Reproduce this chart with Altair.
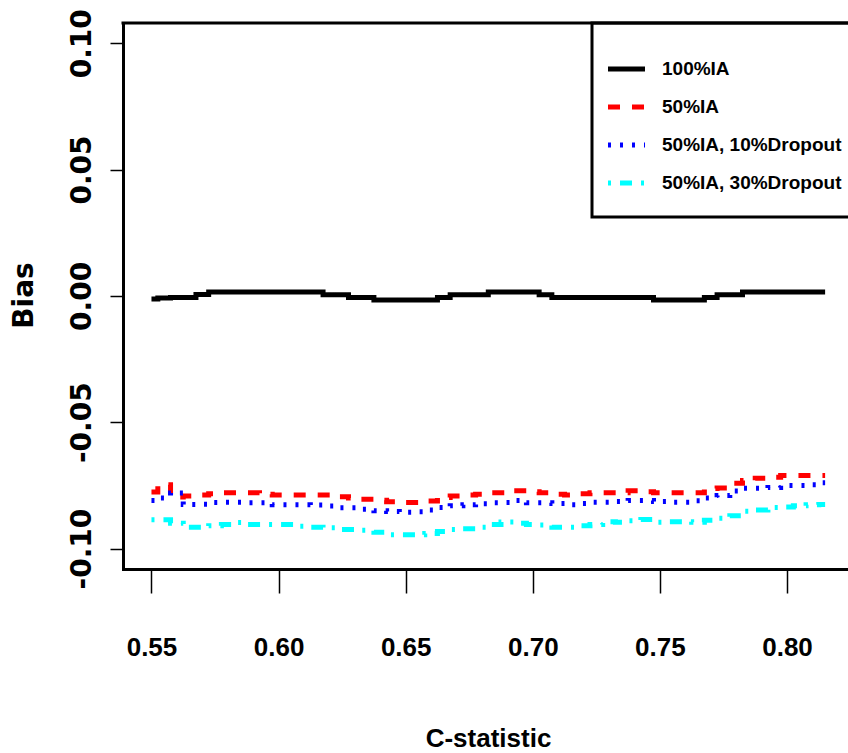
import altair as alt
import pandas as pd

# C-statistic grid shared by all four simulated scenarios
c_stat = [0.550, 0.555, 0.560, 0.565, 0.570, 0.575, 0.580, 0.585, 0.590, 0.595,
          0.600, 0.605, 0.610, 0.615, 0.620, 0.625, 0.630, 0.635, 0.640, 0.645,
          0.650, 0.655, 0.660, 0.665, 0.670, 0.675, 0.680, 0.685, 0.690, 0.695,
          0.700, 0.705, 0.710, 0.715, 0.720, 0.725, 0.730, 0.735, 0.740, 0.745,
          0.750, 0.755, 0.760, 0.765, 0.770, 0.775, 0.780, 0.785, 0.790, 0.795,
          0.800, 0.805, 0.810, 0.815]

bias_ia100 = [-0.0012, -0.0008, -0.0006, -0.0006, 0.0005, 0.0015, 0.0015, 0.0015, 0.0015, 0.0015,
              0.0015, 0.0015, 0.0015, 0.0015, 0.0004, 0.0004, -0.0006, -0.0006, -0.0016, -0.0016,
              -0.0016, -0.0016, -0.0016, -0.0006, 0.0004, 0.0004, 0.0004, 0.0015, 0.0015, 0.0015,
              0.0015, 0.0004, -0.0006, -0.0006, -0.0006, -0.0006, -0.0006, -0.0006, -0.0006, -0.0006,
              -0.0016, -0.0016, -0.0016, -0.0016, -0.0006, 0.0004, 0.0004, 0.0015, 0.0015, 0.0015,
              0.0015, 0.0015, 0.0015, 0.0015]

bias_ia50 = [-0.0776, -0.0748, -0.0796, -0.0792, -0.0788, -0.0783, -0.0779, -0.0779, -0.0779, -0.0785,
             -0.0788, -0.0788, -0.0788, -0.0788, -0.0788, -0.0795, -0.0800, -0.0805, -0.0809, -0.0815,
             -0.0818, -0.0818, -0.0812, -0.0798, -0.0792, -0.0788, -0.0785, -0.0779, -0.0779, -0.0771,
             -0.0775, -0.0779, -0.0785, -0.0788, -0.0783, -0.0779, -0.0779, -0.0779, -0.0771, -0.0775,
             -0.0779, -0.0779, -0.0779, -0.0779, -0.0762, -0.0760, -0.0742, -0.0731, -0.0722, -0.0718,
             -0.0711, -0.0711, -0.0711, -0.0711]

bias_ia50_drop10 = [-0.0810, -0.0800, -0.0780, -0.0826, -0.0825, -0.0818, -0.0817, -0.0817, -0.0819, -0.0819,
                    -0.0827, -0.0827, -0.0827, -0.0828, -0.0832, -0.0839, -0.0839, -0.0845, -0.0850, -0.0853,
                    -0.0856, -0.0854, -0.0847, -0.0838, -0.0831, -0.0827, -0.0823, -0.0819, -0.0818, -0.0810,
                    -0.0819, -0.0819, -0.0822, -0.0827, -0.0822, -0.0817, -0.0817, -0.0814, -0.0810, -0.0810,
                    -0.0814, -0.0817, -0.0817, -0.0811, -0.0800, -0.0790, -0.0772, -0.0761, -0.0761, -0.0758,
                    -0.0751, -0.0751, -0.0748, -0.0740]

bias_ia50_drop30 = [-0.0886, -0.0886, -0.0900, -0.0916, -0.0916, -0.0910, -0.0905, -0.0897, -0.0905, -0.0905,
                    -0.0905, -0.0905, -0.0912, -0.0916, -0.0918, -0.0925, -0.0925, -0.0928, -0.0936, -0.0945,
                    -0.0945, -0.0945, -0.0940, -0.0933, -0.0925, -0.0922, -0.0916, -0.0905, -0.0895, -0.0900,
                    -0.0905, -0.0907, -0.0916, -0.0916, -0.0910, -0.0905, -0.0894, -0.0896, -0.0890, -0.0885,
                    -0.0896, -0.0894, -0.0894, -0.0896, -0.0888, -0.0880, -0.0870, -0.0852, -0.0847, -0.0838,
                    -0.0836, -0.0831, -0.0827, -0.0826]

series_names = ["100%IA", "50%IA", "50%IA, 10%Dropout", "50%IA, 30%Dropout"]
series_colors = ["#000000", "#FF0000", "#0000FF", "#00FFFF"]
series_dashes = [[1, 0], [12, 12], [3, 9], [3, 9, 12, 9]]
series_values = [bias_ia100, bias_ia50, bias_ia50_drop10, bias_ia50_drop30]

x_ticks = [0.55, 0.60, 0.65, 0.70, 0.75, 0.80]
y_ticks = [-0.10, -0.05, 0.00, 0.05, 0.10]

rows = []
for name, vals in zip(series_names, series_values):
    for c, b in zip(c_stat, vals):
        rows.append({"c": c, "bias": b, "series": name})
df = pd.DataFrame(rows)

W, H = 725, 546
NARROW = "'Liberation Sans', Arial, sans-serif"
WIDE = "'DejaVu Sans', sans-serif"

x_axis = alt.Axis(
    values=x_ticks, format=".2f", grid=False,
    domainColor="black", domainWidth=3, domainCap="square",
    tickColor="black", tickWidth=1.5, tickSize=24,
    labelFont=NARROW, labelFontSize=26, labelFontWeight="bold", labelColor="black",
    labelPadding=62, labelBaseline="alphabetic", labelAlign="center", labelFlush=False,
    title="C-statistic", titleFont=NARROW, titleFontSize=26, titleFontWeight="bold",
    titleColor="black", titleX=365, titleY=177, titleAlign="center", titleBaseline="alphabetic",
)

y_axis = alt.Axis(
    values=y_ticks, grid=False,
    labelExpr="datum.value < 0 ? '-' + format(abs(datum.value), '.2f') : format(datum.value, '.2f')",
    domainColor="black", domainWidth=3, domainCap="square",
    tickColor="black", tickWidth=1.5, tickSize=13,
    labelFont=WIDE, labelFontSize=28, labelFontWeight="bold", labelColor="black",
    labelAngle=270, labelAlign="center", labelBaseline="alphabetic", labelPadding=20,
    labelFlush=False,
    title="Bias", titleFont=WIDE, titleFontSize=28, titleFontWeight="bold", titleColor="black",
    titleAngle=270, titleX=-91, titleY=272, titleAlign="center", titleBaseline="alphabetic",
)

lines = alt.Chart(df).mark_line(strokeWidth=5, strokeCap="butt", interpolate="step").encode(
    x=alt.X("c:Q", scale=alt.Scale(domain=[0.5388, 0.8240], nice=False, zero=False), axis=x_axis),
    y=alt.Y("bias:Q", scale=alt.Scale(domain=[-0.1081, 0.1080], nice=False, zero=False), axis=y_axis),
    color=alt.Color("series:N", scale=alt.Scale(domain=series_names, range=series_colors), legend=None),
    strokeDash=alt.StrokeDash("series:N", scale=alt.Scale(domain=series_names, range=series_dashes),
                              legend=None),
)

anchor = pd.DataFrame({"k": [0]})

# top edge of the plot frame
top_edge = alt.Chart(anchor).mark_rule(color="black", strokeWidth=3, strokeCap="square").encode(
    x=alt.value(0), x2=alt.value(W + 10), y=alt.value(0)
)

# legend frame in the top-right corner
legend_box = alt.Chart(anchor).mark_rect(fill="white", stroke="black", strokeWidth=3).encode(
    x=alt.value(469), x2=alt.value(W + 40), y=alt.value(0), y2=alt.value(194)
)

legend_rows = [46, 84, 122, 160]
legend_layers = [legend_box]
for name, col, dash, ry in zip(series_names, series_colors, series_dashes, legend_rows):
    legend_layers.append(
        alt.Chart(anchor).mark_rule(color=col, strokeDash=dash, strokeWidth=5, strokeCap="butt").encode(
            x=alt.value(485), x2=alt.value(522), y=alt.value(ry)
        )
    )
    legend_layers.append(
        alt.Chart(anchor).mark_text(align="left", baseline="middle", font=NARROW, fontSize=19,
                                    fontWeight="bold", color="black").encode(
            x=alt.value(539), y=alt.value(ry), text=alt.value(name)
        )
    )

chart = alt.layer(lines, *legend_layers, top_edge).properties(
    width=W, height=H,
    padding={"left": 123, "top": 23, "right": 0, "bottom": 184},
    autosize=alt.AutoSizeParams(type="none"),
).configure_view(stroke="transparent").configure(background="white")

chart.save("out.html", embed_options={"renderer": "svg", "actions": False})
